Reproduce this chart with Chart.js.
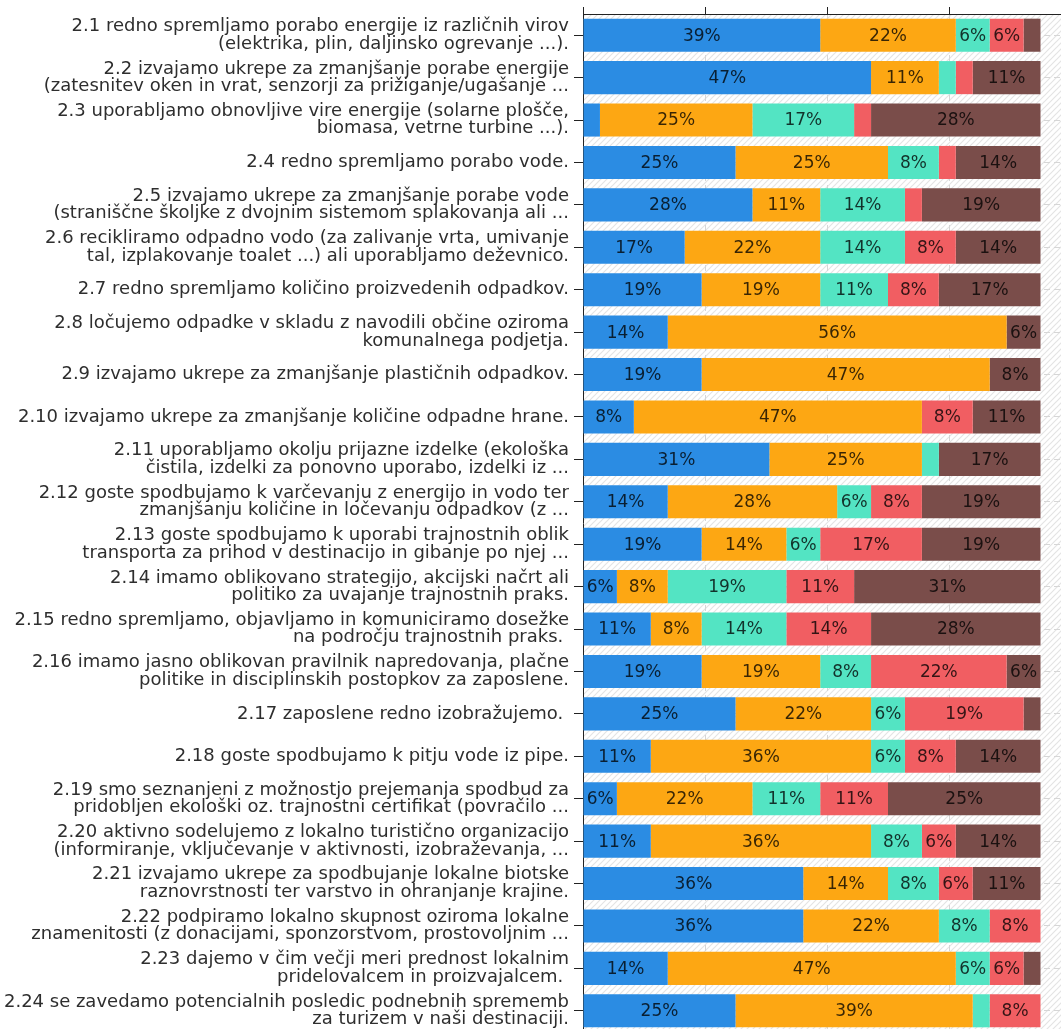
<!DOCTYPE html>
<html>
<head>
<meta charset="utf-8">
<script src="https://cdn.jsdelivr.net/npm/chart.js@4/dist/chart.umd.min.js"></script>
<style>
  html, body { margin: 0; padding: 0; background: #ffffff; overflow: hidden; }
  #wrap { position: absolute; left: 0; top: 0; width: 1071px; height: 1040px; }
</style>
</head>
<body>
<div id="wrap"><canvas id="c" width="1071" height="1040"></canvas></div>
<script>
// ---- data (number of respondents out of N per answer) ----
const N = 36;
const categories = [
  ["2.1 redno spremljamo porabo energije iz različnih virov", "(elektrika, plin, daljinsko ogrevanje ...)."],
  ["2.2 izvajamo ukrepe za zmanjšanje porabe energije", "(zatesnitev oken in vrat, senzorji za prižiganje/ugašanje ..."],
  ["2.3 uporabljamo obnovljive vire energije (solarne plošče,", "biomasa, vetrne turbine ...)."],
  "2.4 redno spremljamo porabo vode.",
  ["2.5 izvajamo ukrepe za zmanjšanje porabe vode", "(straniščne školjke z dvojnim sistemom splakovanja ali ..."],
  ["2.6 recikliramo odpadno vodo (za zalivanje vrta, umivanje", "tal, izplakovanje toalet ...) ali uporabljamo deževnico."],
  "2.7 redno spremljamo količino proizvedenih odpadkov.",
  ["2.8 ločujemo odpadke v skladu z navodili občine oziroma", "komunalnega podjetja."],
  "2.9 izvajamo ukrepe za zmanjšanje plastičnih odpadkov.",
  "2.10 izvajamo ukrepe za zmanjšanje količine odpadne hrane.",
  ["2.11 uporabljamo okolju prijazne izdelke (ekološka", "čistila, izdelki za ponovno uporabo, izdelki iz ..."],
  ["2.12 goste spodbujamo k varčevanju z energijo in vodo ter", "zmanjšanju količine in ločevanju odpadkov (z ..."],
  ["2.13 goste spodbujamo k uporabi trajnostnih oblik", "transporta za prihod v destinacijo in gibanje po njej ..."],
  ["2.14 imamo oblikovano strategijo, akcijski načrt ali", "politiko za uvajanje trajnostnih praks."],
  ["2.15 redno spremljamo, objavljamo in komuniciramo dosežke", "na področju trajnostnih praks. "],
  ["2.16 imamo jasno oblikovan pravilnik napredovanja, plačne", "politike in disciplinskih postopkov za zaposlene."],
  "2.17 zaposlene redno izobražujemo. ",
  "2.18 goste spodbujamo k pitju vode iz pipe.",
  ["2.19 smo seznanjeni z možnostjo prejemanja spodbud za", "pridobljen ekološki oz. trajnostni certifikat (povračilo ..."],
  ["2.20 aktivno sodelujemo z lokalno turistično organizacijo", "(informiranje, vključevanje v aktivnosti, izobraževanja, ..."],
  ["2.21 izvajamo ukrepe za spodbujanje lokalne biotske", "raznovrstnosti ter varstvo in ohranjanje krajine."],
  ["2.22 podpiramo lokalno skupnost oziroma lokalne", "znamenitosti (z donacijami, sponzorstvom, prostovoljnim ..."],
  ["2.23 dajemo v čim večji meri prednost lokalnim", "pridelovalcem in proizvajalcem. "],
  ["2.24 se zavedamo potencialnih posledic podnebnih sprememb", "za turizem v naši destinaciji."]
];

const seriesNames = ["1", "2", "3", "4", "5"];
const seriesBlue   = [14,17, 1, 9,10, 6, 7, 5, 7, 3,11, 5, 7, 2, 4, 7, 9, 4, 2, 4,13,13, 5, 9];
const seriesOrange = [ 8, 4, 9, 9, 4, 8, 7,20,17,17, 9,10, 5, 3, 3, 7, 8,13, 8,13, 5, 8,17,14];
const seriesTeal   = [ 2, 1, 6, 3, 5, 5, 4, 0, 0, 0, 1, 2, 2, 7, 5, 3, 2, 2, 4, 3, 3, 3, 2, 1];
const seriesRed    = [ 2, 1, 1, 1, 1, 3, 3, 0, 0, 3, 0, 3, 6, 4, 5, 8, 7, 3, 4, 2, 2, 3, 2, 3];
const seriesBrown  = [ 1, 4,10, 5, 7, 5, 6, 2, 3, 4, 6, 7, 7,11,10, 2, 1, 5, 9, 5, 4, 0, 1, 0];

const xTickStep = 20;
const xMax = 80;

// ---- chart ----
const counts = [seriesBlue, seriesOrange, seriesTeal, seriesRed, seriesBrown];
const colors = ["#2b8ce3", "#fda713", "#53e4c3", "#f15e62", "#7a4d4a"];

const hatch = document.createElement('canvas');
hatch.width = 6; hatch.height = 6;
(function(){
  const h = hatch.getContext('2d');
  h.fillStyle = '#ffffff'; h.fillRect(0,0,6,6);
  h.strokeStyle = '#e4e4e4'; h.lineWidth = 1.2;
  h.beginPath();
  h.moveTo(0,6); h.lineTo(6,0);
  h.moveTo(-3,3); h.lineTo(3,-3);
  h.moveTo(3,9); h.lineTo(9,3);
  h.stroke();
})();

const bgPlugin = {
  id: 'hatchBg',
  beforeDraw(chart) {
    const {ctx, chartArea: a} = chart;
    ctx.save();
    ctx.fillStyle = ctx.createPattern(hatch, 'repeat');
    ctx.fillRect(a.left, a.top, a.right - a.left, a.bottom - a.top);
    ctx.restore();
  }
};

const labelPlugin = {
  id: 'segLabels',
  afterDatasetsDraw(chart) {
    const ctx = chart.ctx;
    ctx.save();
    ctx.font = '17px "DejaVu Sans"';
    ctx.textAlign = 'center';
    ctx.textBaseline = 'middle';
    ctx.fillStyle = 'rgba(0,0,0,0.78)';
    chart.data.datasets.forEach((ds, i) => {
      const meta = chart.getDatasetMeta(i);
      meta.data.forEach((bar, j) => {
        const c = counts[i][j];
        if (c < 2) return;
        const p = bar.getProps(['x', 'y', 'base'], true);
        const txt = Math.round(c / N * 100) + '%';
        ctx.fillText(txt, (p.x + p.base) / 2, p.y + 1);
      });
    });
    ctx.restore();
  }
};

new Chart(document.getElementById('c'), {
  type: 'bar',
  data: {
    labels: categories,
    datasets: counts.map((arr, i) => ({
      label: seriesNames[i],
      data: arr.map(v => v / N * 100),
      backgroundColor: colors[i],
      borderWidth: 0,
      barPercentage: 0.78,
      categoryPercentage: 1.0
    }))
  },
  options: {
    indexAxis: 'y',
    responsive: false,
    animation: false,
    devicePixelRatio: 1,
    layout: { padding: { left: 0, right: 0, top: 0, bottom: 8 } },
    plugins: { legend: { display: false }, tooltip: { enabled: false }, title: { display: false } },
    scales: {
      x: {
        type: 'linear',
        position: 'top',
        stacked: true,
        min: 0, max: xMax,
        ticks: { display: false, stepSize: xTickStep },
        grid: { color: '#d6d6d6', lineWidth: 1, tickColor: '#222', tickLength: 7, tickBorderDash: [] },
        border: { display: true, color: '#222', width: 1, dash: [6, 4] },
        afterFit(s) { s.height = 14; s.paddingLeft = 0; s.paddingRight = 0; }
      },
      y: {
        type: 'category',
        stacked: true,
        ticks: { font: { family: 'DejaVu Sans', size: 18, lineHeight: 0.97 }, color: '#2e2e2e', padding: 5, autoSkip: false },
        grid: { offset: false, color: '#d6d6d6', lineWidth: 1, tickColor: '#222', tickLength: 9, tickBorderDash: [] },
        border: { display: true, color: '#222', width: 1, dash: [6, 4] },
        afterFit(s) { s.width = 583; s.paddingTop = 0; s.paddingBottom = 0; }
      }
    }
  },
  plugins: [bgPlugin, labelPlugin]
});
</script>
</body>
</html>
